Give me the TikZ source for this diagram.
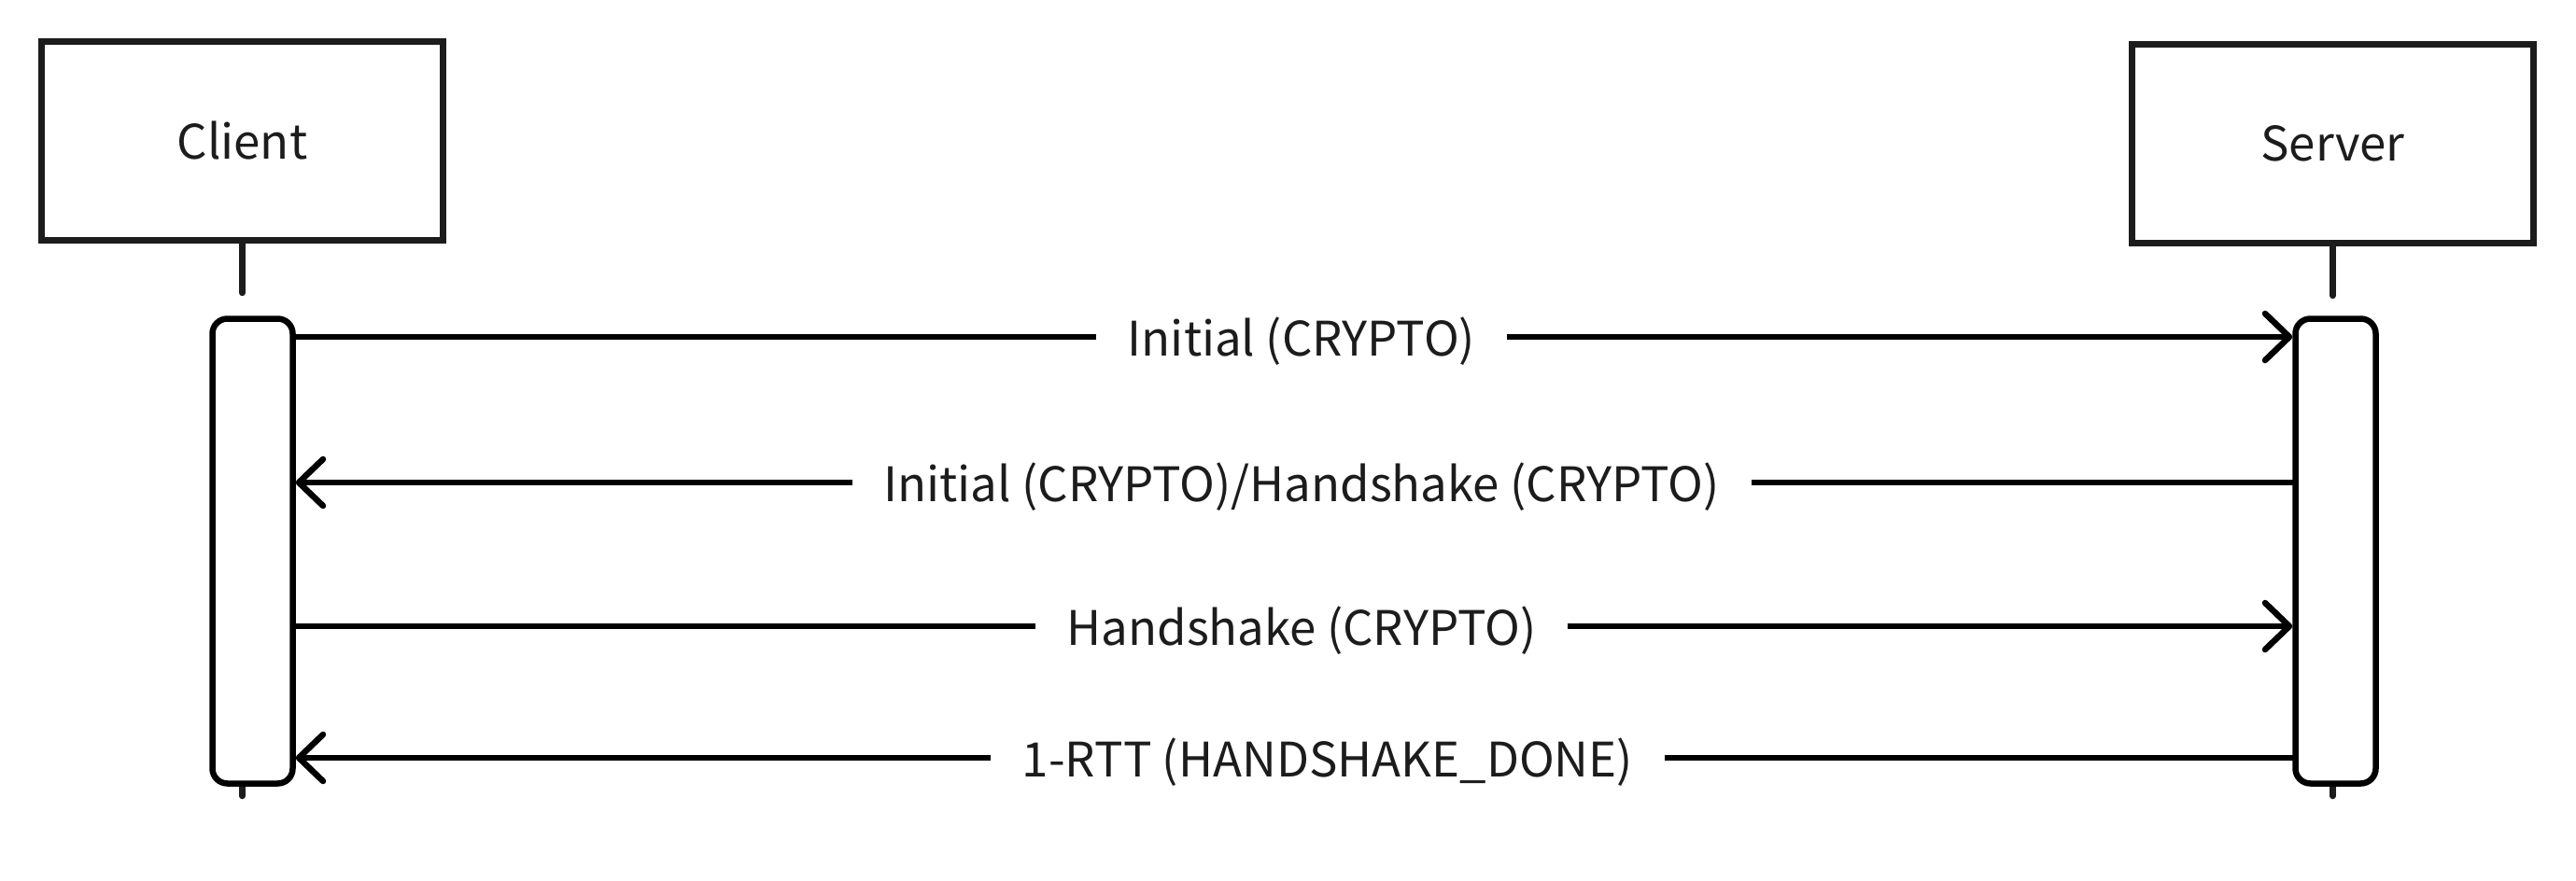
\documentclass[tikz,border=0pt]{standalone}
\usepackage{fontspec}
\setmainfont{Noto Sans CJK SC}
\usetikzlibrary{arrows.meta}
\definecolor{seqink}{HTML}{1C1C1C}
\newcommand\seqfont{\fontsize{14.5}{17.5}\selectfont}

\begin{document}
\begin{tikzpicture}[
  x=1cm, y=1cm,
  line width=0.065cm, line cap=round, line join=round,
  party/.style = {draw=seqink, rectangle, line width=0.068cm, line join=miter,
                  minimum width=4.30cm, minimum height=2.13cm, inner sep=0pt,
                  font=\seqfont, text=seqink},
  act/.style   = {draw=black, fill=white, rounded corners=0.16cm,
                  minimum width=0.86cm, minimum height=4.98cm, inner sep=0pt},
  life/.style  = {draw=seqink},
  msg/.style   = {draw=black, -{Straight Barb[length=0.26cm, width=0.50cm, round]}},
  lbl/.style   = {fill=white, inner xsep=0.34cm, inner ysep=2pt,
                  xshift=0.08cm, yshift=-0.05cm, font=\seqfont, text=seqink}
]
\useasboundingbox (0,0) rectangle (27.59,9.43);

% the two parties
\node[party] (client) at (2.595,7.92) {Client};
\node[party] (server) at (24.985,7.89) {Server};

% lifeline stubs, above and below the activations
\draw[life] (client.south) -- ++(0,-0.53);
\draw[life] (server.south) -- ++(0,-0.53);
\coordinate (lifeend) at (0,0.90);
\draw[life] (client.south |- 0,1.20) -- (client.south |- lifeend);
\draw[life] (server.south |- 0,1.20) -- (server.south |- lifeend);

% activation bars
\node[act] (cbar) at (2.705,3.525) {};
\node[act] (sbar) at (25.015,3.525) {};

% message rows
\coordinate (r1) at (0,5.82);
\coordinate (r2) at (0,4.26);
\coordinate (r3) at (0,2.72);
\coordinate (r4) at (0,1.31);

\draw[msg] (cbar.east |- r1) -- node[lbl] {Initial (CRYPTO)} (sbar.west |- r1);
\draw[msg] (sbar.west |- r2) -- node[lbl] {Initial (CRYPTO)/Handshake (CRYPTO)} (cbar.east |- r2);
\draw[msg] (cbar.east |- r3) -- node[lbl] {Handshake (CRYPTO)} (sbar.west |- r3);
\draw[msg] (sbar.west |- r4) -- node[lbl, xshift=0.28cm] {1-RTT (HANDSHAKE\_DONE)} (cbar.east |- r4);

\end{tikzpicture}
\end{document}
